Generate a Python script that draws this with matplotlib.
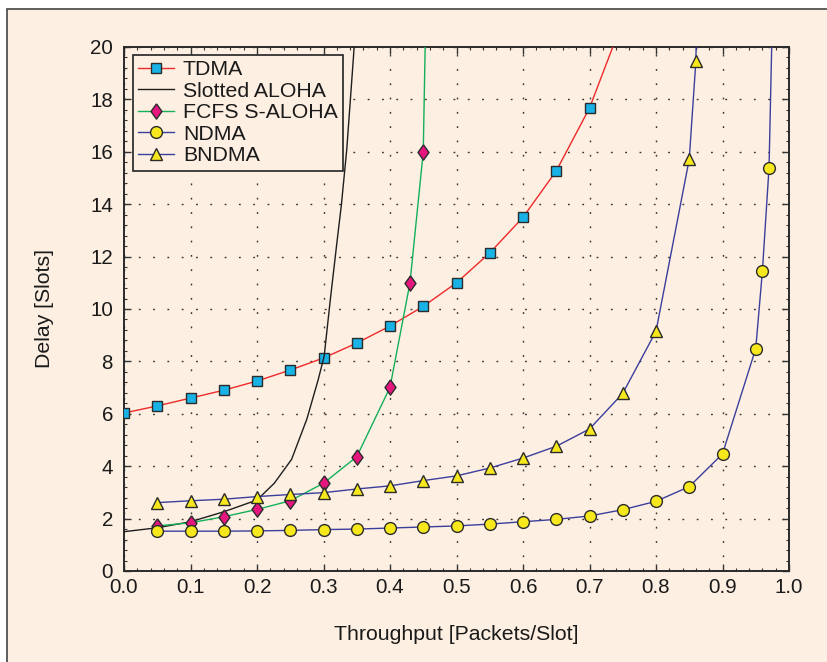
import numpy as np
import matplotlib
matplotlib.use("Agg")
import matplotlib.pyplot as plt
from matplotlib.patches import Rectangle
from matplotlib.ticker import MultipleLocator

plt.rcParams['font.family'] = ['Liberation Sans', 'DejaVu Sans']

# data
tdma_x = [0.0, 0.05, 0.1, 0.15, 0.2, 0.25, 0.3, 0.35, 0.4, 0.45, 0.5, 0.55, 0.6, 0.65, 0.7, 0.75]
tdma_y = [6.03, 6.3, 6.6, 6.9, 7.25, 7.67, 8.13, 8.7, 9.35, 10.1, 11.0, 12.14, 13.5, 15.27, 17.67, 21.0]

aloha_x = [0.0, 0.05, 0.1, 0.15, 0.2, 0.226, 0.252, 0.275, 0.292, 0.301, 0.31, 0.32, 0.327, 0.335, 0.345, 0.35]
aloha_y = [1.5, 1.65, 1.88, 2.26, 2.71, 3.35, 4.26, 5.8, 7.3, 8.2, 10.3, 12.5, 14.0, 16.1, 19.6, 21.5]

fcfs_x = [0.05, 0.1, 0.15, 0.2, 0.25, 0.3, 0.35, 0.4, 0.43, 0.45, 0.46]
fcfs_y = [1.72, 1.84, 2.07, 2.35, 2.68, 3.35, 4.36, 7.01, 10.99, 15.99, 30.0]

ndma_x = [0.05, 0.1, 0.15, 0.2, 0.25, 0.3, 0.35, 0.4, 0.45, 0.5, 0.55, 0.6, 0.65, 0.7, 0.75, 0.8, 0.85, 0.9, 0.95, 0.96, 0.97, 0.98]
ndma_y = [1.52, 1.52, 1.52, 1.53, 1.55, 1.58, 1.6, 1.64, 1.68, 1.72, 1.79, 1.88, 1.97, 2.1, 2.34, 2.66, 3.22, 4.47, 8.49, 11.45, 15.4, 27.0]

bndma_x = [0.05, 0.1, 0.15, 0.2, 0.25, 0.3, 0.35, 0.4, 0.45, 0.5, 0.55, 0.6, 0.65, 0.7, 0.75, 0.8, 0.85, 0.86, 0.87]
bndma_y = [2.61, 2.68, 2.74, 2.84, 2.92, 2.99, 3.13, 3.25, 3.45, 3.63, 3.93, 4.31, 4.76, 5.42, 6.78, 9.15, 15.72, 19.48, 35.0]

cream = '#fdefe2'
edge = '#2b2b2b'

fig = plt.figure(figsize=(8.27, 6.62), dpi=100, facecolor='white')
# cream panel with border, running off the right/bottom edge
fig.patches.append(Rectangle((7 / 827, -0.05), 1.1, 1 - 9 / 662 + 0.05,
                             transform=fig.transFigure, facecolor=cream,
                             edgecolor='#444444', linewidth=1.2, zorder=-10))

ax = fig.add_axes([124 / 827, 1 - 571 / 662, 665 / 827, 524 / 662])
ax.set_facecolor(cream)

diamond = [(0, 1), (0.72, 0), (0, -1), (-0.72, 0), (0, 1)]

ax.plot(tdma_x, tdma_y, color='#ee2a2a', lw=1.0, marker='s', ms=7.2,
        mfc='#19b2e6', mec=edge, mew=1.0, label='TDMA', zorder=3)
ax.plot(aloha_x, aloha_y, color='#1e1e1e', lw=1.0, label='Slotted ALOHA', zorder=3)
ax.plot(fcfs_x, fcfs_y, color='#14b05a', lw=1.0, marker=diamond, ms=11,
        mfc='#e5177f', mec=edge, mew=1.0, label='FCFS S-ALOHA', zorder=3)
ax.plot(ndma_x, ndma_y, color='#3b3f9c', lw=1.0, marker='o', ms=8.5,
        mfc='#f7e81e', mec=edge, mew=1.0, label='NDMA', zorder=4)
ax.plot(bndma_x, bndma_y, color='#3b3f9c', lw=1.0, marker='^', ms=9,
        mfc='#f7e81e', mec=edge, mew=1.0, label='BNDMA', zorder=4)

ax.set_xlim(0, 1.0)
ax.set_ylim(0, 20)
ax.xaxis.set_major_locator(MultipleLocator(0.1))
ax.xaxis.set_minor_locator(MultipleLocator(0.02))
ax.yaxis.set_major_locator(MultipleLocator(2))
ax.yaxis.set_minor_locator(MultipleLocator(0.4))
ax.set_xticks(np.arange(0, 1.01, 0.1))
ax.set_xticklabels(['%.1f' % v for v in np.arange(0, 1.01, 0.1)])

ax.tick_params(which='both', direction='in', top=True, right=True, colors='#333333',
               labelcolor='#1a1a1a', labelsize=14.8)
ax.tick_params(which='major', length=5, width=1.0)
ax.tick_params(which='minor', length=2.5, width=0.8)
ax.tick_params(axis='x', pad=5)
ax.tick_params(axis='y', pad=8)

for s in ax.spines.values():
    s.set_color('#2a2a2a')
    s.set_linewidth(1.4)

ax.grid(True, which='major', color='#333333', linestyle=(0, (1.3, 9)), linewidth=1.0)
ax.set_axisbelow(True)

ax.set_xlabel('Throughput [Packets/Slot]', fontsize=15.3, color='#1a1a1a', labelpad=20)
ax.set_ylabel('Delay [Slots]', fontsize=15.3, color='#1a1a1a', labelpad=26)

leg = ax.legend(loc='upper left', bbox_to_anchor=(0.0135, 0.985), borderaxespad=0,
                fontsize=15.3, frameon=True, fancybox=False, framealpha=1,
                facecolor=cream, edgecolor='#222222', borderpad=0.25,
                labelspacing=0.12, handlelength=1.7, handletextpad=0.4)
leg.get_frame().set_linewidth(1.2)
for t in leg.get_texts():
    t.set_color('#1a1a1a')

fig.savefig('out.png', dpi=100, facecolor=fig.get_facecolor())
